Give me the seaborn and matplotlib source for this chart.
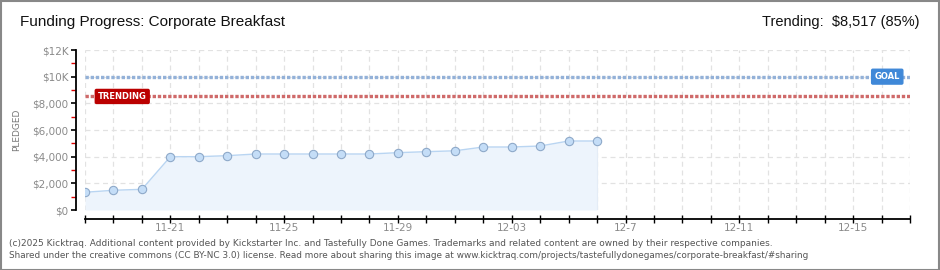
import matplotlib
matplotlib.use("Agg")
import matplotlib.pyplot as plt
import seaborn as sns
import pandas as pd
import numpy as np
from matplotlib.ticker import FixedLocator, MultipleLocator
from matplotlib.patches import Rectangle

# ---- data ----
dates = ["2024-11-18", "2024-11-19", "2024-11-20", "2024-11-21", "2024-11-22",
         "2024-11-23", "2024-11-24", "2024-11-25", "2024-11-26", "2024-11-27",
         "2024-11-28", "2024-11-29", "2024-11-30", "2024-12-01", "2024-12-02",
         "2024-12-03", "2024-12-04", "2024-12-05", "2024-12-06"]
pledged = [1330, 1480, 1550, 4000, 4000, 4075, 4200, 4200, 4200, 4200,
           4200, 4300, 4375, 4440, 4725, 4725, 4800, 5175, 5175]
goal = 10000
trending = 8517
trending_pct = 85
x_start = "2024-11-18"
x_end = "2024-12-17"
tick_label_dates = ["2024-11-21", "2024-11-25", "2024-11-29", "2024-12-03",
                    "2024-12-07", "2024-12-11", "2024-12-15"]
tick_labels = ["11-21", "11-25", "11-29", "12-03", "12-7", "12-11", "12-15"]
y_ticks = [0, 2000, 4000, 6000, 8000, 10000, 12000]
y_tick_labels = ["$0", "$2,000", "$4,000", "$6,000", "$8,000", "$10K", "$12K"]

title = "Funding Progress: Corporate Breakfast"
footer1 = ("(c)2025 Kicktraq. Additional content provided by Kickstarter Inc. and Tastefully Done Games. "
           "Trademarks and related content are owned by their respective companies.")
footer2 = ("Shared under the creative commons (CC BY-NC 3.0) license. Read more about sharing this image at "
           "www.kicktraq.com/projects/tastefullydonegames/corporate-breakfast/#sharing")

df = pd.DataFrame({"date": pd.to_datetime(dates), "pledged": pledged})
t0 = pd.Timestamp(x_start)
df["day"] = (df["date"] - t0).dt.days
x_max = (pd.Timestamp(x_end) - t0).days
tick_pos = [(pd.Timestamp(d) - t0).days for d in tick_label_dates]

sns.set_theme(style="white")
plt.rcParams["font.family"] = ["DejaVu Sans"]
NARROW = ["Liberation Sans Narrow", "Liberation Sans", "DejaVu Sans"]

W, H = 940, 270
fig = plt.figure(figsize=(W / 100, H / 100), dpi=100)
fig.patch.set_facecolor("white")
ax = fig.add_axes([85 / W, 1 - 210 / H, (910 - 85) / W, (210 - 50) / H])
ax.set_facecolor("white")

# grid
for d in range(0, x_max + 1):
    ax.axvline(d, color="#e2e2e2", lw=0.9, ls=(0, (4, 3)), zorder=0)
for yv in y_ticks[1:]:
    ax.axhline(yv, color="#e2e2e2", lw=0.9, ls=(0, (4, 3)), zorder=0)

# fill + line
ax.fill_between(df["day"], df["pledged"], 0, color="#edf4fc", zorder=1, lw=0)
ax.plot([df["day"].iloc[-1]] * 2, [0, df["pledged"].iloc[-1]], color="#e4ecf6", lw=0.8, zorder=1)
sns.lineplot(data=df, x="day", y="pledged", ax=ax, color="#b9d5f2", lw=1.0,
             marker="o", markersize=6, markerfacecolor="#c4ddf7",
             markeredgecolor="#8ea9c9", markeredgewidth=0.8, zorder=3)

# goal / trending lines
ax.axhline(goal, color="#93b1d8", lw=2.4, ls=(0, (1.0, 0.55)), zorder=2)
ax.axhline(trending, color="#cf6a6a", lw=2.4, ls=(0, (1.0, 0.55)), zorder=2)

ax.set_xlim(0, x_max)
ax.set_ylim(0, 12000)
ax.set_xlabel("")
ax.set_ylabel("PLEDGED", fontsize=6.5, color="#777777", labelpad=8)

# spines
for s in ["top", "right"]:
    ax.spines[s].set_visible(False)
ax.spines["left"].set_position(("outward", 6.5))
ax.spines["bottom"].set_position(("outward", 6.5))
ax.spines["left"].set_color("black")
ax.spines["bottom"].set_color("black")
ax.spines["left"].set_linewidth(1.3)
ax.spines["bottom"].set_linewidth(1.3)

ax.yaxis.set_major_locator(FixedLocator(y_ticks))
ax.set_yticklabels(y_tick_labels)
ax.yaxis.set_minor_locator(FixedLocator([1000, 3000, 5000, 7000, 9000, 11000]))
ax.tick_params(axis="y", which="major", length=3.5, width=1.2, color="black",
               labelsize=7.5, labelcolor="#8a8a8a", pad=2, left=True)
ax.tick_params(axis="y", which="minor", length=3.5, width=1.0, color="#dd0000", left=True)

ax.xaxis.set_minor_locator(MultipleLocator(1))
ax.xaxis.set_major_locator(FixedLocator(tick_pos))
ax.set_xticklabels(tick_labels)
ax.tick_params(axis="x", which="both", direction="inout", length=6, width=1.0,
               color="black", bottom=True)
ax.tick_params(axis="x", which="major", labelsize=7.5, labelcolor="#8a8a8a", pad=0)

# badges
ax.text(0.45, trending, "TRENDING", fontsize=6, color="white", fontweight="bold",
        ha="left", va="center", zorder=5,
        bbox=dict(boxstyle="round,pad=0.3,rounding_size=0.15", fc="#bb0000", ec="#bb0000"))
ax.text(28.2, goal, "GOAL", fontsize=6, color="white", fontweight="bold",
        ha="center", va="center", zorder=5,
        bbox=dict(boxstyle="round,pad=0.35,rounding_size=0.15", fc="#3f88d8", ec="#3f88d8"))

# titles
fig.text(20 / W, 1 - 22 / H, title, fontsize=11, color="#111111", ha="left", va="center",
         family=NARROW)
fig.text(920 / W, 1 - 22 / H, f"Trending:  ${trending:,} ({trending_pct}%)", fontsize=10.5,
         color="#111111", ha="right", va="center", family=NARROW)

# footer
fig.text(9 / W, 1 - 243 / H, footer1, fontsize=6.5, color="#555555", ha="left", va="center")
fig.text(9 / W, 1 - 256 / H, footer2, fontsize=6.4, color="#555555", ha="left", va="center")

# border
fig.patches.append(Rectangle((0.5 / W, 0.5 / H), 1 - 1.5 / W, 1 - 1.5 / H, transform=fig.transFigure,
                             fill=False, ec="#888888", lw=1.5))

fig.savefig("out.png", dpi=100, facecolor="white")
